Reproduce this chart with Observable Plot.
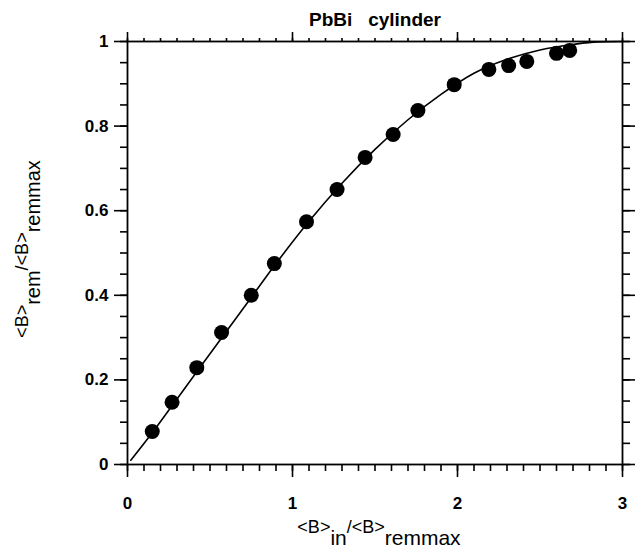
<!DOCTYPE html>
<html>
<head>
<meta charset="utf-8">
<script src="https://cdn.jsdelivr.net/npm/d3@7"></script>
<script src="https://cdn.jsdelivr.net/npm/@observablehq/plot@0.6"></script>
<style>
  html, body { margin: 0; padding: 0; background: #fff; }
  svg { font-family: "Liberation Sans", Arial, sans-serif; }
</style>
</head>
<body>
<div id="chart"></div>
<script>
// Measured points (x = <B>in/<B>remmax, y = <B>rem/<B>remmax)
const dotX = [0.15, 0.27, 0.42, 0.57, 0.75, 0.89, 1.085, 1.27, 1.44, 1.61, 1.76, 1.98, 2.19, 2.31, 2.42, 2.60, 2.68];
const dotY = [0.078, 0.147, 0.229, 0.312, 0.400, 0.475, 0.574, 0.650, 0.726, 0.780, 0.837, 0.898, 0.934, 0.943, 0.953, 0.972, 0.979];

// Solid curve
const curveX = [0.02, 0.15, 0.30, 0.45, 0.60, 0.75, 0.90, 1.10, 1.30, 1.50, 1.70, 1.90, 2.10, 2.30, 2.50, 2.70, 2.85, 3.00];
const curveY = [0.01, 0.075, 0.155, 0.235, 0.315, 0.395, 0.475, 0.575, 0.665, 0.745, 0.815, 0.875, 0.925, 0.958, 0.980, 0.993, 0.999, 1.000];

// Tick values
const xMajor = [0, 1, 2, 3];
const xMinor = d3.range(0, 31).map(i => i / 10);
const yMajor = [0, 0.2, 0.4, 0.6, 0.8, 1];
const yMinor = d3.range(0, 21).map(i => i / 20);

const titleText = "PbBi\u00a0\u00a0\u00a0cylinder";

const dots = dotX.map((x, i) => ({x, y: dotY[i]}));
const curve = curveX.map((x, i) => ({x, y: curveY[i]}));

const blank = () => "";
const sw = 1.6;

const svg = Plot.plot({
  width: 643,
  height: 552,
  marginLeft: 127,
  marginRight: 21,
  marginTop: 41,
  marginBottom: 88,
  style: {background: "white", color: "black", fontFamily: "'Liberation Sans', Arial, sans-serif"},
  x: {domain: [0, 3]},
  y: {domain: [0, 1]},
  marks: [
    Plot.frame({stroke: "black", strokeWidth: 1.8}),
    // bottom
    Plot.axisX(xMinor, {anchor: "bottom", tickSize: 7, tickFormat: blank, label: null, strokeWidth: sw}),
    Plot.axisX(xMajor, {anchor: "bottom", tickSize: 13, tickPadding: 19, label: null, strokeWidth: sw,
      fontSize: 17, fontWeight: "bold", tickFormat: d => String(d)}),
    // top
    Plot.axisX(xMinor, {anchor: "top", tickSize: 4, tickFormat: blank, label: null, strokeWidth: sw}),
    Plot.axisX(xMajor, {anchor: "top", tickSize: 10, tickFormat: blank, label: null, strokeWidth: sw}),
    // left
    Plot.axisY(yMinor, {anchor: "left", tickSize: 7, tickFormat: blank, label: null, strokeWidth: sw}),
    Plot.axisY(yMajor, {anchor: "left", tickSize: 13, tickPadding: 6, label: null, strokeWidth: sw,
      fontSize: 17, fontWeight: "bold", tickFormat: d => (d === 0 || d === 1) ? String(d) : d.toFixed(1)}),
    // right
    Plot.axisY(yMinor, {anchor: "right", tickSize: 7, tickFormat: blank, label: null, strokeWidth: sw}),
    Plot.axisY(yMajor, {anchor: "right", tickSize: 12, tickFormat: blank, label: null, strokeWidth: sw}),
    // curve
    Plot.line(curve, {x: "x", y: "y", curve: "monotone-x", stroke: "black", strokeWidth: 1.6}),
    // dots
    Plot.dot(dots, {x: "x", y: "y", r: 7.5, fill: "black", stroke: "none"}),
    // title
    Plot.text([titleText], {frameAnchor: "top", dy: -29, fontSize: 19, fontWeight: "bold", fill: "black"})
  ]
});

const s = d3.select(svg);
// enforce tick label font
s.selectAll('g[aria-label$="tick label"]').style("font-size", "17px").style("font-weight", "bold");

// X axis label with subscripts
const xl = s.append("text")
  .attr("x", 379).attr("y", 533)
  .attr("text-anchor", "middle")
  .attr("fill", "black")
  .style("font-family", "'Liberation Sans', Arial, sans-serif");
xl.append("tspan").attr("font-size", 18).text("<B>");
xl.append("tspan").attr("font-size", 21).attr("dy", 12).text("in");
xl.append("tspan").attr("font-size", 18).attr("dy", -12).text("/<B>");
xl.append("tspan").attr("font-size", 21).attr("dy", 12).text("remmax");

// Y axis label with subscripts (rotated)
const yl = s.append("text")
  .attr("transform", "translate(28,249) rotate(-90)")
  .attr("text-anchor", "middle")
  .attr("fill", "black")
  .style("font-family", "'Liberation Sans', Arial, sans-serif");
yl.append("tspan").attr("font-size", 18).text("<B>");
yl.append("tspan").attr("font-size", 20).attr("dy", 12).text("rem");
yl.append("tspan").attr("font-size", 18).attr("dy", -12).text("/<B>");
yl.append("tspan").attr("font-size", 20).attr("dy", 12).text("remmax");

document.getElementById("chart").appendChild(svg);
</script>
</body>
</html>
